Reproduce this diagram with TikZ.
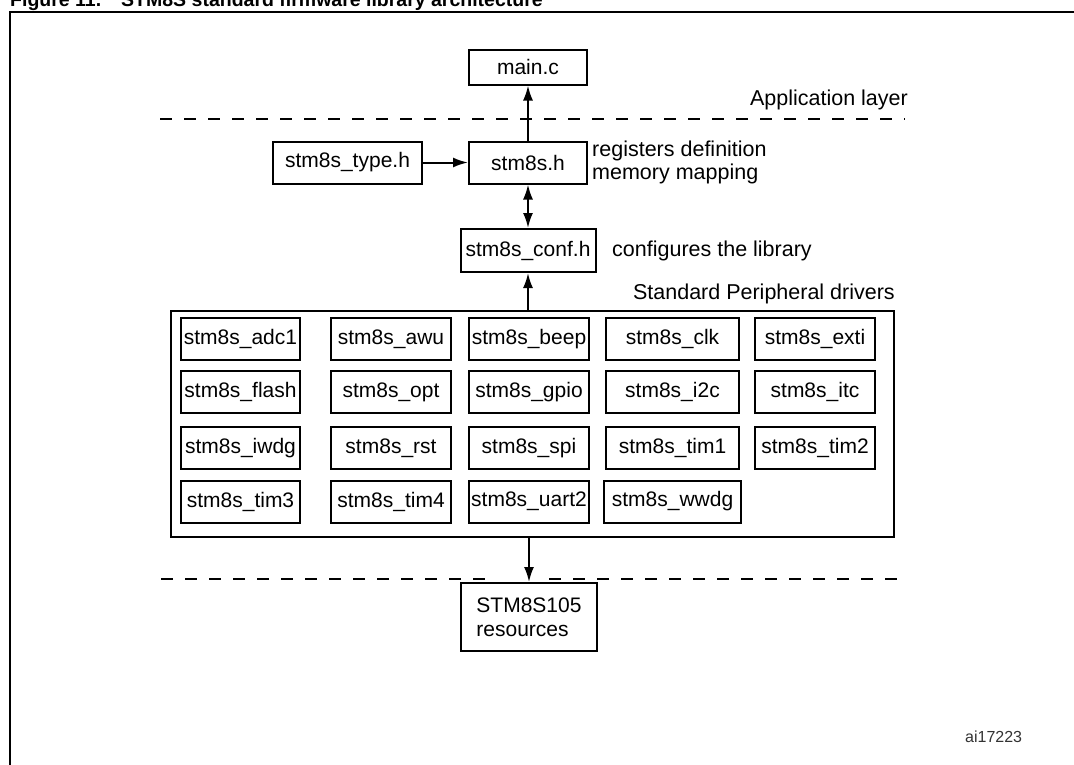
\documentclass[tikz,border=0pt]{standalone}
\usepackage{fontspec}
\setmainfont{Liberation Sans}
\usetikzlibrary{arrows.meta}
\begin{document}
\begin{tikzpicture}[x=1pt,y=-1pt,
  box/.style={draw, line width=2pt, inner sep=0pt, font=\fontsize{21}{24}\selectfont, minimum height=42pt},
  drv/.style={box, minimum width=120pt},
  lbl/.style={inner sep=0pt, font=\fontsize{21.5}{23}\selectfont},
  conn/.style={line width=2pt, -{Latex[length=15pt,width=10pt]}},
  biconn/.style={line width=2pt, {Latex[length=15pt,width=10pt]}-{Latex[length=15pt,width=10pt]}},
  layerline/.style={line width=1.5pt, dash pattern=on 12pt off 12pt}
]
\useasboundingbox (0,0) rectangle (1074,764);
\fill[white] (0,0) rectangle (1074,764);

% title (cut at the top) and frame
\node[anchor=base west, inner sep=0pt, font=\bfseries\fontsize{19.5}{21}\selectfont] (title) at (10,6)
  {Figure 11.\hspace{20pt}STM8S standard firmware library architecture};
\coordinate (fa) at (10,800);
\coordinate (fb) at (10,12);
\coordinate (fc) at (1100,12);
\draw[line width=2.5pt] (fa) -- (fb) -- (fc);

% main column
\node[box, minimum width=118pt, minimum height=35pt] (main) at (528,67) {main.c};
\node[box, minimum width=118pt] (h) at (528,162.5) {stm8s.h};
\node[box, minimum width=149pt] (type) at (347.5,162.5) {stm8s\_type.h};
\node[box, minimum width=135pt, minimum height=43pt] (conf) at (528,250.5) {stm8s\_conf.h};
\node[draw, line width=2pt, inner sep=0pt, minimum width=723pt, minimum height=226pt] (drivers) at (532.5,424) {};
\node[box, minimum width=136pt, minimum height=68pt, align=left] (res) at (529,617) {STM8S105\\resources};

% labels
\node[lbl, anchor=east] (app) at (908,100) {Application layer};
\node[lbl, anchor=west, align=left] (regs) at (592,162) {registers definition\\memory mapping};
\node[lbl, anchor=west] (cfg) at (612,251) {configures the library};
\node[lbl, anchor=east] (spd) at (895,294) {Standard Peripheral drivers};
\node[anchor=west, inner sep=0pt, text=black!80, font=\fontsize{16}{18}\selectfont] (ai) at (965,737) {ai17223};

% layer lines
\coordinate (d1a) at (160,119);
\coordinate (d1b) at (905,119);
\coordinate (d2a) at (161,579);
\coordinate (d2b) at (485,579);
\coordinate (d2c) at (549,579);
\coordinate (d2d) at (905,579);
\draw[layerline] (d1a) -- (d1b);
\draw[layerline] (d2a) -- (d2b);
\draw[layerline] (d2c) -- (d2d);

% driver grid
\node[drv, minimum width=119pt] (adc1) at (240.5,339) {stm8s\_adc1};
\node[drv] (awu) at (391,339) {stm8s\_awu};
\node[drv] (beep) at (529,339) {stm8s\_beep};
\node[drv, minimum width=133pt] (clk) at (672.5,339) {stm8s\_clk};
\node[drv] (exti) at (815,339) {stm8s\_exti};

\node[drv, minimum width=119pt] (flash) at (240.5,392) {stm8s\_flash};
\node[drv] (opt) at (391,392) {stm8s\_opt};
\node[drv] (gpio) at (529,392) {stm8s\_gpio};
\node[drv, minimum width=133pt] (i2c) at (672.5,392) {stm8s\_i2c};
\node[drv] (itc) at (815,392) {stm8s\_itc};

\node[drv, minimum width=119pt] (iwdg) at (240.5,448) {stm8s\_iwdg};
\node[drv] (rst) at (391,448) {stm8s\_rst};
\node[drv] (spi) at (529,448) {stm8s\_spi};
\node[drv, minimum width=133pt] (tim1) at (672.5,448) {stm8s\_tim1};
\node[drv] (tim2) at (815,448) {stm8s\_tim2};

\node[drv, minimum width=119pt] (tim3) at (240.5,501.5) {stm8s\_tim3};
\node[drv] (tim4) at (391,501.5) {stm8s\_tim4};
\node[drv] (uart2) at (529,501.5) {stm8s\_uart2};
\node[drv, minimum width=137pt] (wwdg) at (672.5,501.5) {stm8s\_wwdg};

% connectors
\draw[conn] (h.north) -- (main.south);
\draw[conn] (type.east) -- (h.west);
\draw[biconn] (h.south) -- (conf.north);
\draw[conn] (drivers.north -| conf.south) -- (conf.south);
\draw[conn] (drivers.south -| res.north) -- (res.north);
\end{tikzpicture}
\end{document}
